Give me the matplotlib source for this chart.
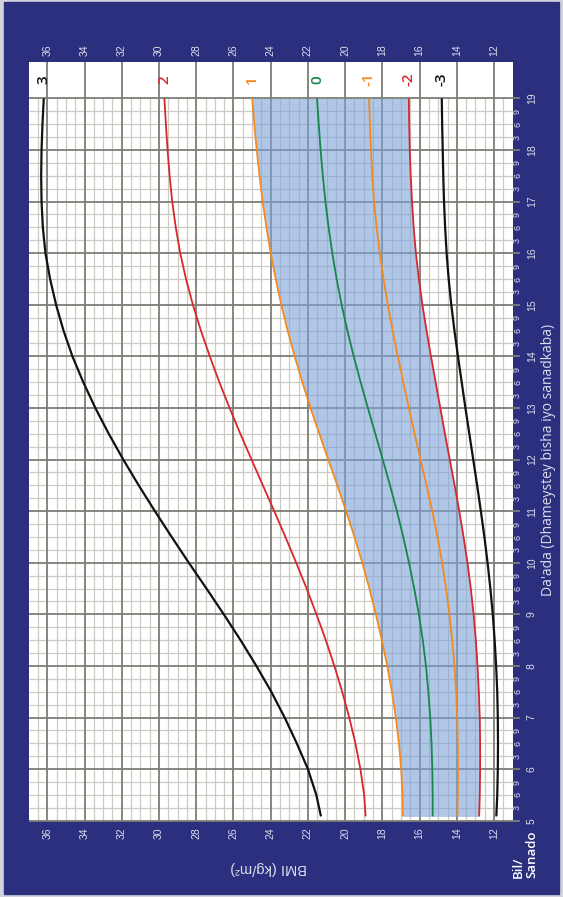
import numpy as np
import matplotlib.pyplot as plt
from matplotlib.patches import Rectangle

W, H = 563, 897

# age in years (x of the original chart, drawn bottom -> top)
age = [5.083, 5.5, 6.0, 6.5, 7.0, 7.5, 8.0, 8.5, 9.0, 9.5, 10.0, 10.5, 11.0, 11.5,
       12.0, 12.5, 13.0, 13.5, 14.0, 14.5, 15.0, 15.5, 16.0, 16.5, 17.0, 17.5,
       18.0, 18.5, 19.0]

# BMI (kg/m2) for each z-score line
sd_p3 = [21.3, 21.55, 22.0, 22.6, 23.25, 23.97, 24.77, 25.62, 26.52, 27.45, 28.4, 29.32,
         30.22, 31.09, 31.92, 32.7, 33.42, 34.07, 34.65, 35.13, 35.53, 35.85, 36.1, 36.24,
         36.31, 36.33, 36.31, 36.26, 36.19]
sd_p2 = [18.9, 18.98, 19.18, 19.45, 19.78, 20.16, 20.58, 21.04, 21.54, 22.07, 22.63, 23.21,
         23.81, 24.42, 25.03, 25.63, 26.21, 26.76, 27.27, 27.75, 28.18, 28.55, 28.86, 29.10,
         29.29, 29.43, 29.54, 29.63, 29.71]
sd_p1 = [16.9, 16.92, 16.99, 17.11, 17.28, 17.49, 17.74, 18.03, 18.35, 18.70, 19.08, 19.50,
         19.95, 20.42, 20.91, 21.39, 21.86, 22.30, 22.71, 23.09, 23.43, 23.73, 24.00, 24.23,
         24.43, 24.60, 24.75, 24.88, 24.99]
sd_0 = [15.3, 15.3, 15.32, 15.36, 15.43, 15.53, 15.66, 15.83, 16.04, 16.29, 16.57, 16.88,
        17.22, 17.59, 17.98, 18.38, 18.78, 19.17, 19.54, 19.88, 20.19, 20.46, 20.69, 20.89,
        21.06, 21.20, 21.32, 21.42, 21.51]
sd_m1 = [13.97, 13.95, 13.94, 13.95, 13.98, 14.04, 14.13, 14.25, 14.40, 14.58, 14.79, 15.04,
         15.32, 15.63, 15.95, 16.27, 16.58, 16.88, 17.17, 17.45, 17.71, 17.94, 18.14, 18.31,
         18.45, 18.54, 18.61, 18.67, 18.72]
sd_m2 = [12.8, 12.77, 12.75, 12.75, 12.77, 12.82, 12.89, 12.98, 13.10, 13.25, 13.43, 13.64,
         13.87, 14.12, 14.38, 14.64, 14.89, 15.14, 15.39, 15.63, 15.85, 16.04, 16.20, 16.32,
         16.41, 16.48, 16.53, 16.56, 16.58]
sd_m3 = [11.88, 11.83, 11.80, 11.79, 11.80, 11.83, 11.89, 11.97, 12.07, 12.20, 12.35, 12.52,
         12.71, 12.91, 13.12, 13.33, 13.54, 13.74, 13.94, 14.13, 14.30, 14.44, 14.55, 14.63,
         14.69, 14.73, 14.76, 14.79, 14.81]

z_labels = ["3", "2", "1", "0", "-1", "-2", "-3"]
bmi_ticks = [36, 34, 32, 30, 28, 26, 24, 22, 20, 18, 16, 14, 12]
years = list(range(5, 20))
months = ["3", "6", "9"]

navy = "#2b2f7e"
light = "#dcdcec"
black = "#111111"
red = "#d6282c"
orange = "#f28a1e"
green = "#15874a"
major_c = "#7d7d76"
minor_c = "#cdc9c4"

curves = [sd_p3, sd_p2, sd_p1, sd_0, sd_m1, sd_m2, sd_m3]
colors = [black, red, orange, green, orange, red, black]
widths = [1.6, 1.3, 1.3, 1.3, 1.3, 1.3, 1.6]

fig = plt.figure(figsize=(W / 100, H / 100), dpi=100)
fig.patch.set_facecolor("#d2d2de")
fig.patches.append(Rectangle((4 / W, 3 / H), 555 / W, 892 / H,
                             transform=fig.transFigure, color=navy, zorder=-10))

ax = fig.add_axes([28.7 / W, (H - 820.7) / H, 484 / W, (820.7 - 62.3) / H])
ax.set_zorder(1)
ax.set_facecolor("white")
ax.set_xlim(37, 11)
ax.set_ylim(5, 19.7)
ax.set_xticks([])
ax.set_yticks([])
for s in ax.spines.values():
    s.set_visible(False)

# grid
minor_x = [v for v in np.arange(11.5, 37, 0.5) if v % 2 != 0]
ax.vlines(minor_x, 5, 19, color=minor_c, lw=0.9, zorder=1)
minor_y = [v for v in np.arange(5.25, 19, 0.25) if v % 1 != 0]
ax.hlines(minor_y, 11, 37, color=minor_c, lw=0.9, zorder=1)
ax.vlines(bmi_ticks, 5, 19.7, color=major_c, lw=1.3, zorder=1.5)
ax.hlines(years, 10.62, 37, color=major_c, lw=1.3, zorder=1.5, clip_on=False)

# shaded band between -2 and +1, grid shows through
ax.fill_betweenx(age, sd_p1, sd_m2, color="#7ea3d9", alpha=0.6, lw=0, zorder=2)

# z-score lines
for vals, c, w in zip(curves, colors, widths):
    ax.plot(vals, age, color=c, lw=w, zorder=3, solid_capstyle="butt",
            solid_joinstyle="round")

# z-score labels in the top strip
for vals, lab, c in zip(curves, z_labels, colors):
    ax.text(vals[-1], 19.37, lab, color=c, fontsize=11, rotation=90,
            ha="center", va="center", family="Open Sans", fontweight="semibold")

# BMI tick labels top and bottom
for b in bmi_ticks:
    for yy in (19.94, 4.76):
        ax.text(b, yy, str(b), color=light, fontsize=7.5, rotation=90,
                ha="center", va="center", family="Liberation Sans", clip_on=False)

# age tick labels
for yr in years:
    ax.text(9.97, yr, str(yr), color=light, fontsize=7.5, rotation=90,
            ha="center", va="center", family="Liberation Sans", clip_on=False)
    if yr < 19:
        for i, m in enumerate(months):
            ax.text(10.74, yr + 0.25 * (i + 1), m, color=light, fontsize=6.5, rotation=90,
                    ha="center", va="center", family="Liberation Sans", clip_on=False)

ax.text(9.08, 12.0, "Da'ada (Dhameystey bisha iyo sanadkaba)", color=light,
        fontsize=10, rotation=90, ha="center", va="center", family="Open Sans",
        clip_on=False)
ax.text(24.1, 4.09, "BMI (kg/m\u00b2)", color=light, fontsize=10.5, rotation=180,
        ha="center", va="center", family="Liberation Sans", clip_on=False)
ax.text(10.34, 3.89, "Bil/\nSanado", color="white", fontsize=9.5, rotation=90,
        rotation_mode="anchor", ha="left", va="center", family="Open Sans",
        fontweight="semibold", linespacing=1.1, clip_on=False)

fig.savefig("out.png", dpi=100, facecolor=fig.get_facecolor())
